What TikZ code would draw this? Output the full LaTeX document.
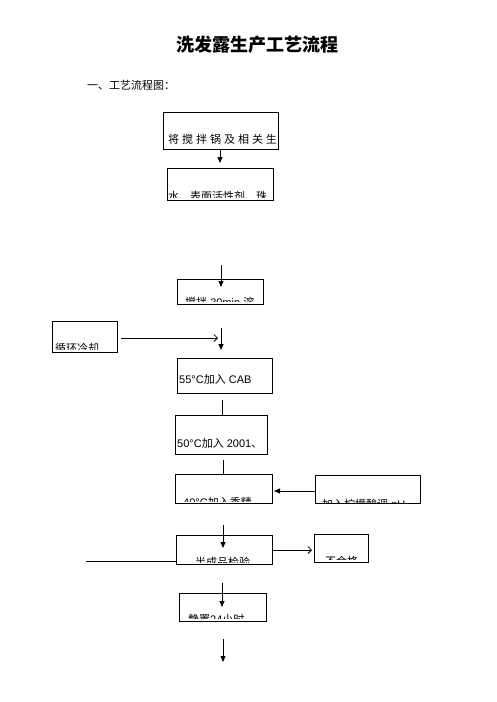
\documentclass[tikz,border=0pt]{standalone}
\usepackage{fontspec}
\setmainfont{Liberation Sans}
\newfontfamily\cjk{Noto Sans CJK SC}
\newfontfamily\cjksp[LetterSpace=27]{Noto Sans CJK SC}
\usetikzlibrary{arrows.meta}
\tikzset{
  boxst/.style={draw, line width=1pt, inner sep=0pt, outer sep=0pt},
  txt/.style={inner sep=0pt, font=\fontsize{11}{13}\selectfont},
  varr/.style={line width=0.8pt, -{Triangle[length=6pt,width=5pt]}},
  barr/.style={line width=0.8pt, -{Straight Barb[length=3.5pt,width=7pt]}},
  plain/.style={line width=0.8pt},
}
% name, x1, y1, x2, y2, text x, text baseline, clip bottom, text
\newcommand\mkbox[9]{%
  \node[boxst, minimum width={#4-#2}, minimum height={#5-#3}] (#1) at ({(#2+#4)/2},{(#3+#5)/2}) {};
  \begin{scope}
    \clip (#2,#3) rectangle (#4,#8);
    \node[txt, anchor=base west] (#1t) at (#6,#7) {#9};
  \end{scope}}
\begin{document}
\begin{tikzpicture}[x=1pt,y=-1pt]
\useasboundingbox (0,0) rectangle (496,702);
\node[font=\fontsize{18}{20}\selectfont\cjk\bfseries, inner sep=0pt] (title) at (257,45) {洗发露生产工艺流程};
\node[font=\fontsize{11}{13}\selectfont\cjk, inner sep=0pt, anchor=west] (sub) at (87,85) {一、工艺流程图：};

\mkbox{b1}{163}{112}{278}{149}{168}{143.5}{149}{\cjksp 将搅拌锅及相关生}
\mkbox{b2}{167}{168}{273}{200}{168}{200.5}{197.5}{\cjk 水、表面活性剂、珠}
\mkbox{b3}{177}{279}{263}{304}{185}{306.7}{301}{{\cjk 搅拌} 30min {\cjk 溶}}
\mkbox{bL}{52}{321}{117}{352}{55}{352.4}{349.5}{\cjk 循环冷却}
\mkbox{b4}{177}{358}{272}{393}{179}{383}{393}{55°C{\cjk 加入} CAB}
\mkbox{b5}{175}{415}{267}{454}{177}{447}{454}{50°C{\cjk 加入} 2001{\cjk 、}}
\mkbox{b6}{175}{474}{272}{503}{183}{506.4}{501.7}{40°C{\cjk 加入香精}}
\mkbox{bR}{315}{475}{420}{503}{322}{508}{502}{{\cjk 加入柠檬酸调} pH}
\mkbox{b7}{176}{535}{272}{564}{195}{566.4}{562.3}{\cjk 半成品检验}
\mkbox{b8}{314}{534}{368}{562}{325}{565.7}{559.3}{\cjk 不合格}
\mkbox{b9}{179}{593}{266}{621}{188}{623}{618.3}{{\cjk 静置}24{\cjk 小时}}

\coordinate (a1s) at (220,149);
\coordinate (a1e) at (220,163);
\coordinate (a2s) at (221,265);
\coordinate (a2e) at (221,287);
\coordinate (a3s) at (121,338);
\coordinate (a3e) at (218,338);
\coordinate (a4s) at (221,328);
\coordinate (a4e) at (221,350);
\coordinate (l1s) at (222,400);
\coordinate (l1e) at (222,415);
\coordinate (l2s) at (223,460);
\coordinate (l2e) at (223,474);
\coordinate (a5s) at (315,491);
\coordinate (a5e) at (274,491);
\coordinate (a6s) at (223,525);
\coordinate (a6e) at (223,548);
\coordinate (l3s) at (86,561);
\coordinate (l3e) at (176,561);
\coordinate (a7s) at (272,550);
\coordinate (a7e) at (312,550);
\coordinate (a8s) at (222,583);
\coordinate (a8e) at (222,607);
\coordinate (a9s) at (223,639);
\coordinate (a9e) at (223,662);

\draw[varr] (a1s) -- (a1e);
\draw[varr] (a2s) -- (a2e);
\draw[barr] (a3s) -- (a3e);
\draw[varr] (a4s) -- (a4e);
\draw[plain] (l1s) -- (l1e);
\draw[plain] (l2s) -- (l2e);
\draw[varr] (a5s) -- (a5e);
\draw[varr] (a6s) -- (a6e);
\draw[plain] (l3s) -- (l3e);
\draw[barr] (a7s) -- (a7e);
\draw[varr] (a8s) -- (a8e);
\draw[varr] (a9s) -- (a9e);
\end{tikzpicture}
\end{document}
